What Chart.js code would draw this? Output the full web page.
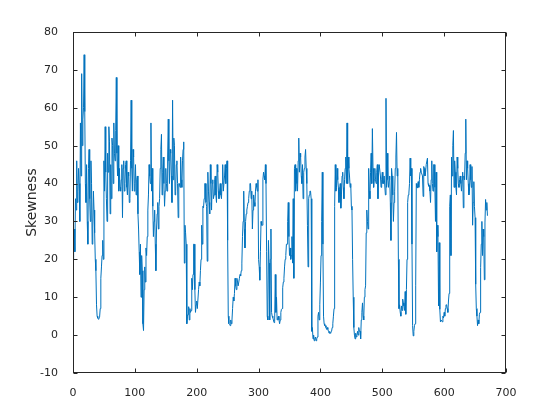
<!DOCTYPE html>
<html>
<head>
<meta charset="utf-8">
<script src="https://cdn.jsdelivr.net/npm/chart.js@4.4.1/dist/chart.umd.min.js"></script>
<style>
  body { margin: 0; background: #fff; }
</style>
</head>
<body>
<canvas id="grafskew" width="560" height="420"></canvas>
<script>
// skewness per sample, sample index = position in the list (0..670)
var skewness = [
  20,26,28,22,36,33,46,35,38,44,
  40,30,56,42,69,50,57,60,74,59,
  40,35,45,30,24,44,49,36,30,46,
  40,24,28,38,33,27,20,17,8,5,
  4.5,4.2,4.5,4.8,7,15,18,21,25,20,
  46,38,55,43,36,30,48,43,55,51,
  32,45,36,52,50,40,56,48,46,54,
  68,48,42,50,38,44,39,38,41,45,
  31,44,46,38,40,45,46,39,37,43,
  42,35,36,46,62,44,38,49,47,38,
  40,45,37,41,42,32,28,22,16,24,
  10,21,17,3,1.2,12,18,14,23,21,
  26,33,37,45,42,40,56,38,44,34,
  26,30,33,24,17,28,32,35,28,34,
  36,44,49,53,37,43,47,40,34,38,
  44,40,38,47,57,46,40,49,48,42,
  35,62,41,52,50,37,38,45,46,40,
  31,40,40,39,47,41,39,46,49,51,
  19,29,27,24,3,5,5.5,7.5,4,7,
  6,6.5,15,12,16,24,24,12,6,8,
  9,7,7,12,14,13,17,20,29,24,
  34,33.6,36,40,40,35,34,19.5,43,38,
  35,32,45,40,33,40,41,36,37,41,
  42,37,35,45,43,38,36,38,40,37,
  36,40,45,38,38,42,45,40,44,46,
  25,5,3,2.8,2.5,4,3,4,7,10,
  9,11,15,13,12,15,14,13,13,15,
  16,15.6,17,19,26,30,38,28,23,30,
  32,33,34,35,36,38,40,40,36,38,
  28,33,37,35,34,38,40,39,38,41,
  20,18,14.5,22,30,29,29,41,43,42,
  41,45,40,22,5,4,25,19,4,20,
  28,6,5,4.6,4,3.3,3.5,16,6,10,
  4,4.5,5,4,3,4,6,6.8,7,12.5,
  14,15,18,20,21,24,24,30,35,26,
  21,23,20,21,26,19,36,15,44,45,
  38,44,40,38,46,52,43,48,47,42,
  40,45,36,43,44,47,49,44,40,29,
  18,36,37,38,38,36,1,2,-1,0,
  -1.5,-1,-0.5,-1.5,-1,-0.5,5,6,4,8,
  14,21,30,43,24,5,3,2.5,2.5,2,
  1.5,2,1.5,1,0.5,1,0.5,0.8,1,2,
  3,5,7,34,45,38,39,44,41,39,
  35,38,40,33.5,37,42,43,39,36,41,
  44,47,40,56,40,47,44,42,39,40,
  34,33,20,10,2,0,-1,0.5,-0.5,0,
  1,0,2,1,1,-1,4,6,8.5,5,
  4,10,12,13,27,33,30,28,44,38,
  36,43,48,40,54.5,44,39,41,44,41,
  40,43,45,36,43,45,45,42,39,41,
  43,40,40,42,42,37,62.5,39,48,41,
  39,41,42,35,25,44,42,37,30,35,
  38,44,47,53.5,42,44,20,7,8,6,
  5,7.7,6.5,9.5,8.5,7.7,6.5,11.5,5.5,12,
  20,35,37,37.5,40,46.7,42,44,24,2.5,
  -0.2,1,2.5,3,13,40,39,38.8,40.5,39,
  41,43,44,43,43,42,36.6,44.5,44,42,
  43,45,45,46.7,40,39.3,39.5,38,35,41,
  46,40,38,45,45,39,30,43,22,29,
  26,7.7,24.4,6.8,3.5,4,4,3.5,5,4.5,
  6,5,7,8,8,7,6,9,11,34,
  37,21,47,42,50,54,39,46,43,39,
  37,47,44,40,39,41,42,40,38,41,
  43,33.6,42,41,48,57,41,46,44,40,
  37,38,45,41,39,44.5,29,35,40.5,34,
  31,13.4,7,5,2.5,4,3,5.5,6,17.8,
  24,30,21,28,26,14.6,29.6,35.8,33,35,
  31.5
];
var xTicks = [0,100,200,300,400,500,600,700];
var yTicks = [-10,0,10,20,30,40,50,60,70,80];

var puntos = [];
for (var i = 0; i < skewness.length; i++){
    puntos.push({x: i, y: skewness[i]});
}

// matlab style box with ticks pointing inward on all four sides
var cajaEjes = {
    id: "cajaEjes",
    afterDraw: function(chart){
        var ctx = chart.ctx, a = chart.chartArea;
        var sx = chart.scales.x, sy = chart.scales.y, t = 4;
        var l = Math.round(a.left) + 0.5, r = Math.round(a.right) - 0.5;
        var tp = Math.round(a.top) + 0.5, b = Math.round(a.bottom) - 0.5;
        ctx.save();
        ctx.strokeStyle = "#262626";
        ctx.lineWidth = 1;
        ctx.strokeRect(l, tp, r - l, b - tp);
        ctx.beginPath();
        xTicks.forEach(function(v){
            var px = Math.round(sx.getPixelForValue(v)) + 0.5;
            ctx.moveTo(px, b); ctx.lineTo(px, b - t);
            ctx.moveTo(px, tp); ctx.lineTo(px, tp + t);
        });
        yTicks.forEach(function(v){
            var py = Math.round(sy.getPixelForValue(v)) + 0.5;
            ctx.moveTo(l, py); ctx.lineTo(l + t, py);
            ctx.moveTo(r, py); ctx.lineTo(r - t, py);
        });
        ctx.stroke();
        ctx.restore();
    }
};

Chart.defaults.font.family = "DejaVu Sans";
Chart.defaults.font.size = 11;
Chart.defaults.color = "#262626";

var grafskew = new Chart(document.getElementById("grafskew"), {
    type: "line",
    data: {
        datasets: [{
            data: puntos,
            borderColor: "#0072BD",
            borderWidth: 1,
            pointRadius: 0,
            tension: 0,
            fill: false
        }]
    },
    options: {
        responsive: false,
        animation: false,
        layout: { padding: { top: 32, right: 54, left: 0, bottom: 0 } },
        plugins: { legend: { display: false }, tooltip: { enabled: false } },
        scales: {
            x: {
                type: "linear", min: 0, max: 700,
                grid: { display: false }, border: { display: false },
                ticks: { stepSize: 100, padding: 6, maxRotation: 0 },
                afterFit: function(s){ s.height = 47; }
            },
            y: {
                min: -10, max: 80,
                grid: { display: false }, border: { display: false },
                ticks: { stepSize: 10, padding: 7 },
                title: { display: true, text: "Skewness", font: { size: 14 }, padding: { top: 24, bottom: 0 } },
                afterFit: function(s){ s.width = 73; }
            }
        }
    },
    plugins: [cajaEjes]
});
</script>
</body>
</html>
